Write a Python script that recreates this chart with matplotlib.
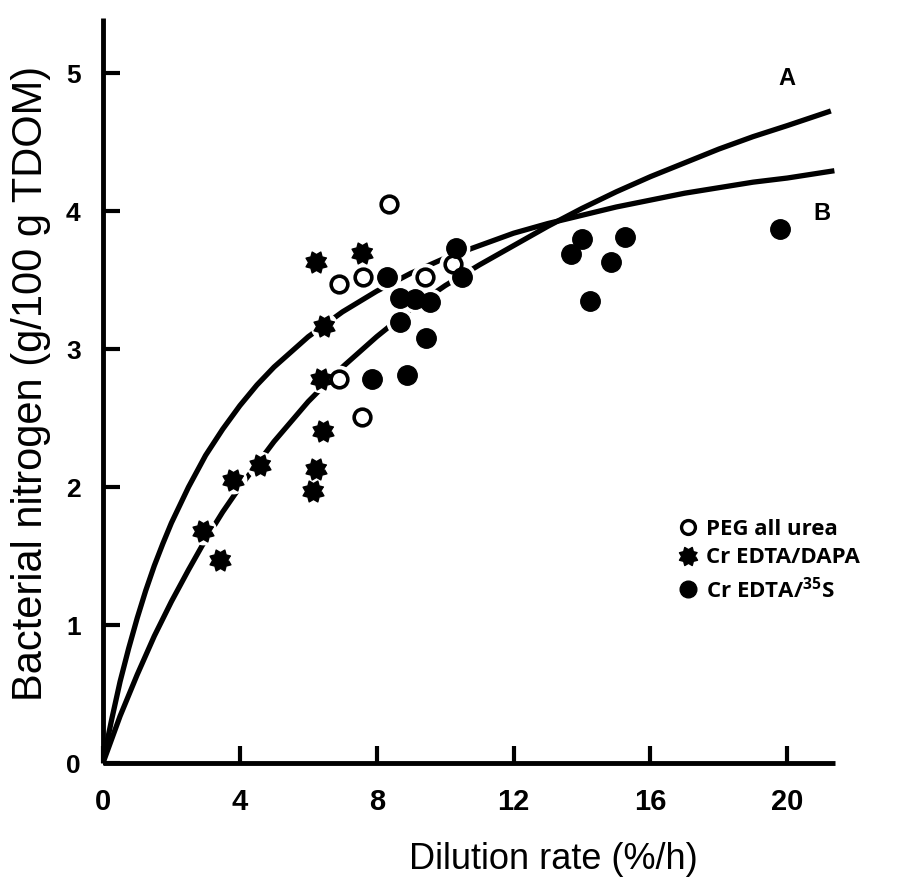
import numpy as np
import matplotlib.pyplot as plt
from matplotlib.lines import Line2D

plt.rcParams['font.family'] = ['Liberation Sans', 'DejaVu Sans']
plt.rcParams['mathtext.fontset'] = 'custom'
plt.rcParams['mathtext.rm'] = 'Open Sans'
plt.rcParams['mathtext.bf'] = 'Open Sans:bold'

# PEG all urea (open circles)
peg_x = [8.37, 6.91, 7.61, 9.42, 10.22, 6.91, 7.56]
peg_y = [4.05, 3.47, 3.52, 3.52, 3.62, 2.78, 2.51]

# Cr EDTA/DAPA (stars)
dapa_x = [6.23, 7.56, 6.46, 6.36, 6.44, 6.23, 6.13, 4.59, 3.79, 2.93, 3.42]
dapa_y = [3.63, 3.70, 3.17, 2.78, 2.41, 2.13, 1.97, 2.16, 2.05, 1.68, 1.47]

# Cr EDTA/35S (filled circles)
s35_x = [10.32, 8.31, 10.48, 8.68, 9.12, 9.56, 8.68, 9.44, 7.87, 8.90,
         13.99, 13.67, 15.26, 14.84, 14.22, 19.80]
s35_y = [3.73, 3.52, 3.52, 3.37, 3.36, 3.34, 3.20, 3.08, 2.78, 2.81,
         3.80, 3.69, 3.81, 3.63, 3.35, 3.87]

# fitted curves
curve_a_x = [0, 0.25, 0.5, 1, 1.5, 2, 2.5, 3, 3.5, 4, 5, 6, 7, 8, 9, 10, 11, 12, 13, 14, 15,
             16, 17, 18, 19, 20, 21.2]
curve_a_y = [0, 0.17, 0.34, 0.64, 0.92, 1.17, 1.40, 1.62, 1.82, 2.00, 2.33, 2.62, 2.87, 3.09,
             3.29, 3.46, 3.61, 3.75, 3.89, 4.02, 4.14, 4.25, 4.35, 4.45, 4.54, 4.62, 4.72]
curve_b_x = [0, 0.1, 0.25, 0.5, 0.75, 1, 1.25, 1.5, 1.75, 2, 2.5, 3, 3.5, 4, 4.5, 5, 6, 7, 8,
             9, 10, 11, 12, 13, 14, 15, 16, 17, 18, 19, 20, 21.3]
curve_b_y = [0, 0.13, 0.31, 0.59, 0.83, 1.05, 1.25, 1.43, 1.59, 1.74, 2.00, 2.23, 2.42, 2.59,
             2.74, 2.87, 3.09, 3.27, 3.42, 3.55, 3.66, 3.75, 3.84, 3.91, 3.97, 4.03, 4.08,
             4.13, 4.17, 4.21, 4.24, 4.29]

x_ticks = [0, 4, 8, 12, 16, 20]
y_ticks = [0, 1, 2, 3, 4, 5]

# eight-point star marker
ang = np.linspace(0, 2 * np.pi, 17)[:-1] + np.pi / 8
rad = np.where(np.arange(16) % 2 == 0, 1.0, 0.7)
star = list(zip(rad * np.cos(ang), rad * np.sin(ang)))

fig = plt.figure(figsize=(9, 8.81), dpi=100)
ax = fig.add_axes([0.1144, 0.1339, 0.8136, 0.8457])

ax.plot(curve_a_x, curve_a_y, color='black', lw=3.8, zorder=2)
ax.plot(curve_b_x, curve_b_y, color='black', lw=3.8, zorder=2)

# white halo so the curves break around the points
ax.plot(peg_x + dapa_x + s35_x, peg_y + dapa_y + s35_y, ls='none', marker='o',
        ms=19, mfc='white', mec='white', zorder=3)

ax.plot(peg_x, peg_y, ls='none', marker='o', ms=12, mfc='white', mec='black', mew=2.6, zorder=4)
ax.plot(dapa_x, dapa_y, ls='none', marker=star, ms=15, color='black', zorder=4)
ax.plot(s35_x, s35_y, ls='none', marker='o', ms=14, color='black', zorder=4)

ax.text(20.0, 4.96, 'A', fontsize=17, fontweight='bold', ha='center', va='center')
ax.text(21.0, 3.98, 'B', fontsize=17, fontweight='bold', ha='center', va='center')

ax.set_xlim(0, 21.4)
ax.set_ylim(0, 5.4)
for s in ['top', 'right']:
    ax.spines[s].set_visible(False)
for s in ['left', 'bottom']:
    ax.spines[s].set_linewidth(3.5)
    ax.spines[s].set_capstyle('butt')

ax.set_xticks(x_ticks)
ax.set_xticklabels([str(t) for t in x_ticks], fontsize=21, fontweight='bold')
ax.set_yticks(y_ticks)
ax.set_yticklabels([str(t) for t in y_ticks], fontsize=19, fontweight='bold')
ax.tick_params(axis='x', direction='in', length=12, width=3, pad=18)
ax.tick_params(axis='y', direction='in', length=12, width=3, pad=16)

ax.set_xlabel('Dilution rate (%/h)', fontsize=26)
ax.xaxis.set_label_coords(0.615, -0.106)
ax.set_ylabel('Bacterial nitrogen (g/100 g TDOM)', fontsize=30)
ax.yaxis.label.set_va('center')
ax.yaxis.set_label_coords(-0.098, 0.51)

handles = [
    Line2D([], [], ls='none', marker='o', ms=10, mfc='white', mec='black', mew=2.4),
    Line2D([], [], ls='none', marker=star, ms=13, color='black'),
    Line2D([], [], ls='none', marker='o', ms=12, color='black'),
]
labels = ['PEG all urea', 'Cr EDTA/DAPA', r'Cr EDTA/$^{\mathbf{35}}$S']
ax.legend(handles, labels, loc='upper left', bbox_to_anchor=(0.787, 0.328), frameon=False,
          prop={'family': 'Open Sans', 'weight': 'bold', 'size': 16},
          handlelength=0.8, handletextpad=0.4, labelspacing=0.35, borderpad=0, borderaxespad=0)

fig.savefig('out.png', dpi=100)
